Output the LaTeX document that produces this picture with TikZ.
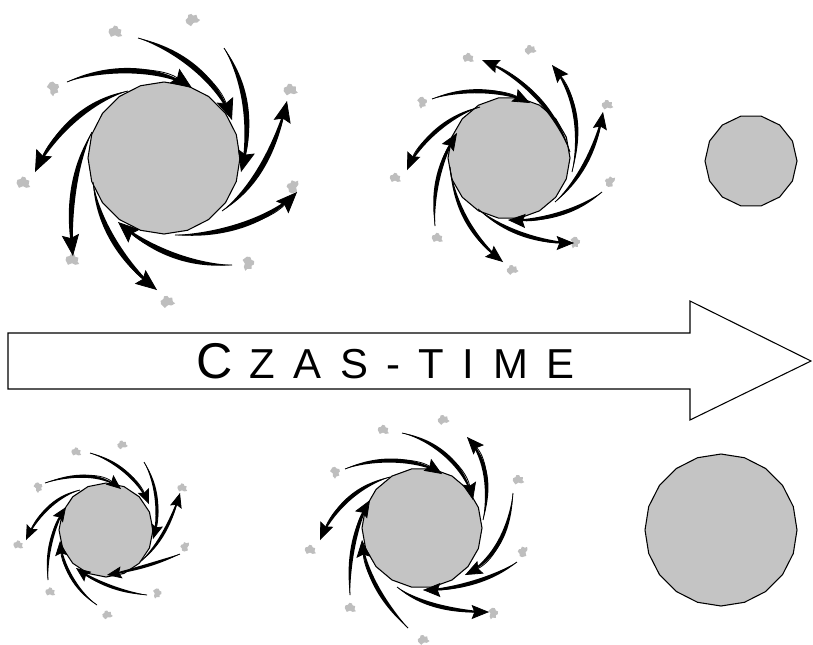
\documentclass[tikz,border=0pt]{standalone}
\usepackage{fontspec}
\setmainfont{Liberation Sans}
\usetikzlibrary{arrows.meta,calc}

\definecolor{coregray}{RGB}{196,196,196}
\definecolor{dustgray}{RGB}{190,190,190}

% tapered spiral stream: #1 offset of the lens edges, #2 head style,
% #3 start, #4 and #5 control points, #6 end
\newcommand\gxarr[6]{%
  \fill (#3) .. controls ($(#4)!#1!90:(#6)$) and ($(#5)!#1!-90:(#3)$) .. (#6)
    .. controls ($(#5)!#1!90:(#3)$) and ($(#4)!#1!-90:(#6)$) .. (#3) -- cycle;
  \draw[line width=0.6pt,#2] (#3) .. controls (#4) and (#5) .. (#6);
}

% faceted galaxy core: centre x, centre y, radius, number of facets
\newcommand\gxcore[4]{%
  \draw[core] plot[domain=0:360-360/#4,samples=#4]
    ({#1+#3*cos(\x)},{#2+#3*sin(\x)}) -- cycle;
}

\tikzset{
  core/.style={fill=coregray,draw=black,line width=0.8pt,line join=round},
  headL/.style={-{Stealth[length=16pt,width=13pt,inset=2.5pt]}},
  headM/.style={-{Stealth[length=13pt,width=10.5pt,inset=2pt]}},
  headS/.style={-{Stealth[length=11pt,width=9pt,inset=1.8pt]}},
  dust/.pic={\fill[dustgray] (-4,0) -- (-3.5,-2) -- (-1.5,-2.5) -- (-0.5,-4)
     -- (1.5,-3.5) -- (2,-2) -- (4,-1.5) -- (3.5,1) -- (4.5,2.5) -- (2,3)
     -- (0,2) -- (-2.5,3) -- cycle;}
}

\begin{document}
\begin{tikzpicture}[x=0.75pt,y=-0.75pt]
\useasboundingbox (0,0) rectangle (813,644);

% ---------- time arrow ----------
\draw[line width=0.8pt,fill=white,line join=miter]
  (8,333) -- (690,333) -- (690,301) -- (811,361) -- (690,420) -- (690,389)
  -- (8,389) -- cycle;
\node[anchor=base west,inner sep=0pt] (label) at (196,378)
  {{\fontsize{37.7}{40}\selectfont C}\hspace{13pt}{\fontsize{31.4}{34}\selectfont\addfontfeature{LetterSpace=44}ZAS-TIME}};

% ---------- dust clouds ----------
\foreach \bx/\by/\br in {115/32/0, 192/20/30, 53/88/-60, 290/90/10, 23/183/0,
    293/187/80, 72/260/0, 248/263/-80, 167/302/20}
  \pic[scale=1.6,rotate=\br] at (\bx,\by) {dust};
\foreach \bx/\by/\br in {468/58/0, 530/50/20, 422/102/-70, 607/105/10,
    395/178/0, 610/182/70, 437/238/0, 575/242/-80, 512/270/20,
    383/430/0, 443/420/20, 335/472/-60, 518/480/10, 310/550/0, 523/552/80,
    350/608/0, 493/613/-80, 423/640/20}
  \pic[scale=1.3,rotate=\br] at (\bx,\by) {dust};
\foreach \bx/\by/\br in {76/452/0, 122/445/20, 38/487/-60, 182/488/0,
    18/545/0, 185/547/80, 50/592/0, 157/593/-80, 107/615/20}
  \pic[scale=1.15,rotate=\br] at (\bx,\by) {dust};

% ---------- galaxy, upper left ----------
\gxcore{164}{158}{76}{20}
\gxarr{2.8pt}{headL}{67,82}{105,66}{160,66}{192,88}
\gxarr{2.8pt}{headL}{138,38}{180,50}{218,80}{232,120}
\gxarr{2.8pt}{headL}{224,48}{248,85}{252,130}{241,172}
\gxarr{2.8pt}{headL}{128,91}{90,100}{55,130}{35,172}
\gxarr{2.8pt}{headL}{92,132}{72,170}{68,215}{73,256}
\gxarr{2.8pt}{headL}{93,182}{98,225}{125,265}{157,290}
\gxarr{2.8pt}{headL}{222,211}{255,188}{276,148}{287,101}
\gxarr{2.8pt}{headL}{175,235}{220,236}{268,222}{297,192}
\gxarr{2.8pt}{headL}{232,265}{190,266}{150,250}{118,222}

% ---------- galaxy, upper middle ----------
\gxcore{509}{158}{61}{18}
\gxarr{2.1pt}{headM}{432,99}{462,88}{500,88}{530,103}
\gxarr{2.1pt}{headM}{570,152}{556,112}{526,78}{482,60}
\gxarr{2.1pt}{headM}{572,172}{582,130}{576,95}{552,65}
\gxarr{2.1pt}{headM}{555,202}{582,178}{597,145}{603,112}
\gxarr{2.1pt}{headM}{602,192}{580,210}{545,222}{508,220}
\gxarr{2.1pt}{headM}{478,209}{505,232}{540,243}{574,243}
\gxarr{2.1pt}{headM}{450,167}{455,210}{475,240}{503,262}
\gxarr{2.1pt}{headM}{435,226}{432,190}{440,160}{457,133}
\gxarr{2.1pt}{headM}{480,107}{450,115}{420,140}{407,170}

% ---------- bare core, upper right ----------
\gxcore{751}{161}{46}{14}

% ---------- galaxy, lower left ----------
\gxcore{106}{530}{47}{16}
\gxarr{1.6pt}{headS}{45,483}{72,474}{100,472}{121,489}
\gxarr{1.6pt}{headS}{90,453}{115,460}{138,478}{149,504}
\gxarr{1.6pt}{headS}{144,462}{158,485}{160,515}{153,539}
\gxarr{1.6pt}{headS}{140,562}{160,545}{172,520}{180,493}
\gxarr{1.6pt}{headS}{180,554}{160,562}{135,570}{107,575}
\gxarr{1.6pt}{headS}{147,595}{120,592}{95,582}{76,568}
\gxarr{1.6pt}{headS}{97,605}{75,590}{62,565}{60,541}
\gxarr{1.6pt}{headS}{48,580}{46,555}{52,528}{66,507}
\gxarr{1.6pt}{headS}{80,490}{60,495}{40,510}{26,540}

% ---------- galaxy, lower middle ----------
\gxcore{422}{528}{60}{18}
\gxarr{2.1pt}{headM}{345,469}{375,457}{415,457}{442,474}
\gxarr{2.1pt}{headM}{402,433}{435,440}{465,465}{473,500}
\gxarr{2.1pt}{headM}{483,520}{490,490}{488,460}{467,437}
\gxarr{2.1pt}{headM}{513,493}{510,530}{495,560}{465,575}
\gxarr{2.1pt}{headM}{517,562}{495,578}{458,590}{423,590}
\gxarr{2.1pt}{headM}{397,587}{420,605}{455,612}{489,612}
\gxarr{2.1pt}{headM}{408,628}{385,605}{365,575}{362,540}
\gxarr{2.1pt}{headM}{350,595}{348,560}{355,525}{370,500}
\gxarr{2.1pt}{headM}{390,477}{360,485}{335,505}{320,540}

% ---------- bare core, lower right ----------
\gxcore{721}{530}{76}{20}
\end{tikzpicture}
\end{document}
